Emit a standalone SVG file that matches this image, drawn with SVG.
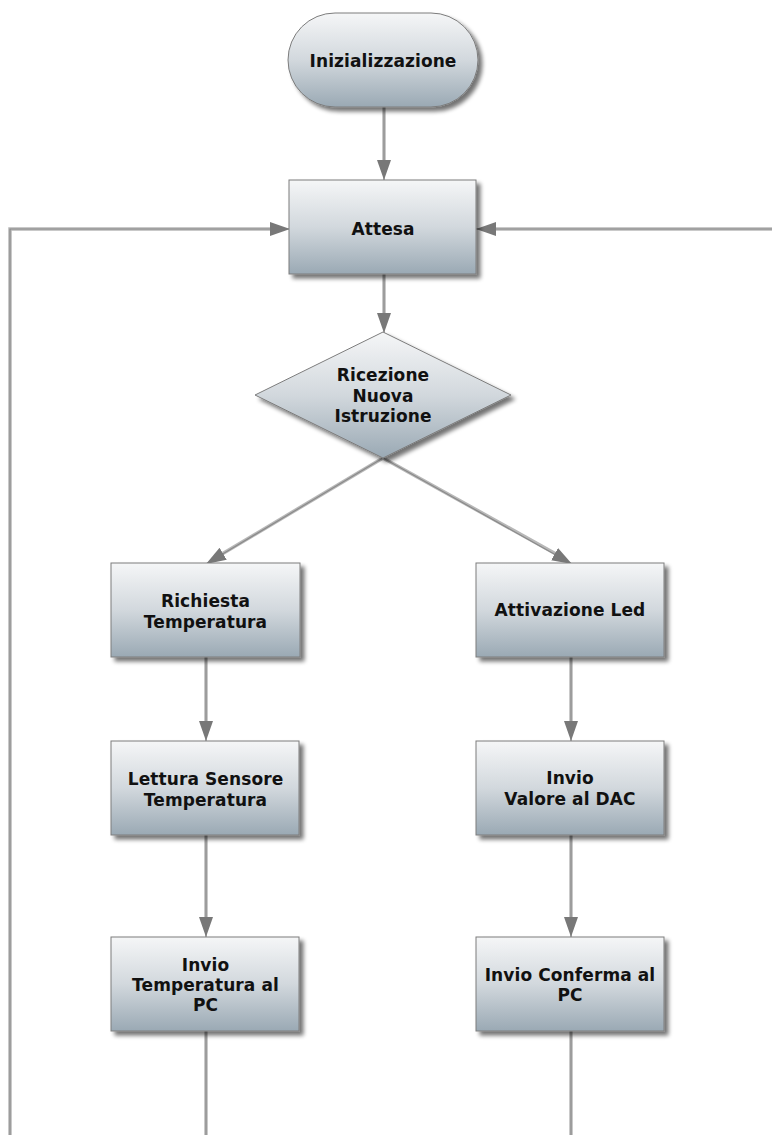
<svg xmlns="http://www.w3.org/2000/svg" width="772" height="1135" viewBox="0 0 772 1135">
<defs>
<linearGradient id="g" x1="0" y1="0" x2="0" y2="1">
<stop offset="0" stop-color="#f5f6f7"/>
<stop offset="0.5" stop-color="#d2d8dd"/>
<stop offset="1" stop-color="#9aa9b4"/>
</linearGradient>
<filter id="sh" x="-10%" y="-10%" width="130%" height="140%">
<feGaussianBlur in="SourceAlpha" stdDeviation="2"/>
<feOffset dx="4" dy="4" result="b"/>
<feComponentTransfer><feFuncA type="linear" slope="0.55"/></feComponentTransfer>
<feMerge><feMergeNode/><feMergeNode in="SourceGraphic"/></feMerge>
</filter>
<marker id="ah" markerUnits="userSpaceOnUse" markerWidth="22" markerHeight="16" refX="20" refY="7" orient="auto" viewBox="0 0 22 16">
<path d="M0,0 L20,7 L0,14 z" fill="#787878"/>
</marker>
</defs>
<style>
.shape{fill:url(#g);stroke:#7c7c7c;stroke-width:1;filter:url(#sh)}
.lbl{font-family:"DejaVu Sans",Verdana,sans-serif;font-weight:bold;font-size:17px;letter-spacing:0.1px;fill:#111;text-anchor:middle}
.wo{fill:none;stroke:#b8b8b8;stroke-width:3.5}
.wi{fill:none;stroke:#8a8a8a;stroke-width:1.2}
</style>
<g id="connectors">
<path class="wo" d="M384,107 V162"/><path class="wi" d="M384,107 V180" marker-end="url(#ah)"/>
<path class="wo" d="M384,274 V315"/><path class="wi" d="M384,274 V333" marker-end="url(#ah)"/>
<path class="wo" d="M383,458 L222,554"/><path class="wi" d="M383,458 L206,564" marker-end="url(#ah)"/>
<path class="wo" d="M383,458 L556,554"/><path class="wi" d="M383,458 L572,564" marker-end="url(#ah)"/>
<path class="wo" d="M206,657 V723"/><path class="wi" d="M206,657 V741" marker-end="url(#ah)"/>
<path class="wo" d="M206,835 V919"/><path class="wi" d="M206,835 V937" marker-end="url(#ah)"/>
<path class="wo" d="M571,657 V723"/><path class="wi" d="M571,657 V741" marker-end="url(#ah)"/>
<path class="wo" d="M571,835 V919"/><path class="wi" d="M571,835 V937" marker-end="url(#ah)"/>
<path class="wo" d="M206,1031 V1135"/><path class="wi" d="M206,1031 V1135"/>
<path class="wo" d="M571,1031 V1135"/><path class="wi" d="M571,1031 V1135"/>
<path class="wo" d="M10,1135 V229 H272"/><path class="wi" d="M10,1135 V229 H290" marker-end="url(#ah)"/>
<path class="wo" d="M772,229 H494"/><path class="wi" d="M772,229 H476" marker-end="url(#ah)"/>
</g>
<g id="n-init">
<rect class="shape" x="288" y="13" width="190" height="94" rx="47" ry="47"/>
<text class="lbl" x="383" y="67">Inizializzazione</text>
</g>
<g id="n-attesa">
<rect class="shape" x="289" y="180" width="187" height="94"/>
<text class="lbl" x="383" y="235">Attesa</text>
</g>
<g id="n-ricezione">
<polygon class="shape" points="383,332 511,395 383,458 255,395"/>
<text class="lbl" x="383" y="380.5">Ricezione</text>
<text class="lbl" x="383" y="401.5">Nuova</text>
<text class="lbl" x="383" y="422">Istruzione</text>
</g>
<g id="n-richiesta">
<rect class="shape" x="111" y="563" width="189" height="94"/>
<text class="lbl" x="205.5" y="607">Richiesta</text>
<text class="lbl" x="205.5" y="628">Temperatura</text>
</g>
<g id="n-attivazione">
<rect class="shape" x="476" y="563" width="188" height="94"/>
<text class="lbl" x="570" y="616">Attivazione Led</text>
</g>
<g id="n-lettura">
<rect class="shape" x="111" y="741" width="188" height="94"/>
<text class="lbl" x="205.5" y="785">Lettura Sensore</text>
<text class="lbl" x="205.5" y="806">Temperatura</text>
</g>
<g id="n-valore">
<rect class="shape" x="476" y="741" width="188" height="94"/>
<text class="lbl" x="570" y="784">Invio</text>
<text class="lbl" x="570" y="804.5">Valore al DAC</text>
</g>
<g id="n-inviotemp">
<rect class="shape" x="111" y="937" width="188" height="94"/>
<text class="lbl" x="205.5" y="970.5">Invio</text>
<text class="lbl" x="205.5" y="990.5">Temperatura al</text>
<text class="lbl" x="205.5" y="1010.5">PC</text>
</g>
<g id="n-invioconf">
<rect class="shape" x="476" y="937" width="188" height="94"/>
<text class="lbl" x="570" y="980.5">Invio Conferma al</text>
<text class="lbl" x="570" y="1000.5">PC</text>
</g>
</svg>
